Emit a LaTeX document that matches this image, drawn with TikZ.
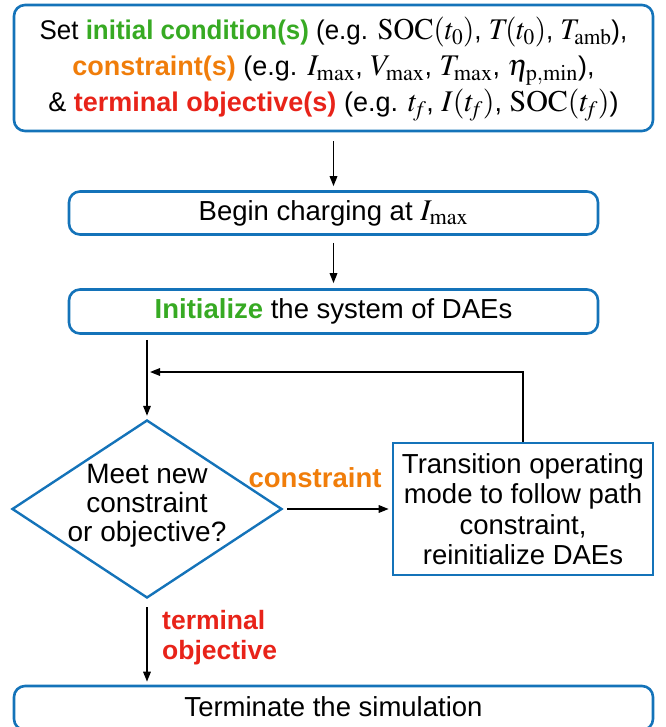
\documentclass[tikz,border=0pt]{standalone}
\usepackage{mathptmx}
\usepackage[no-math]{fontspec}
\setmainfont{Liberation Sans}
\usetikzlibrary{shapes.geometric,arrows.meta}
\definecolor{myblue}{RGB}{20,115,185}
\definecolor{mygreen}{RGB}{55,170,35}
\definecolor{myorange}{RGB}{240,125,10}
\definecolor{myred}{RGB}{232,35,25}
\newcommand{\mth}[1]{{\fontsize{30}{30}\selectfont$#1$}}
\begin{document}
\begin{tikzpicture}[x=1pt,y=-1pt,
  txt/.style={font=\fontsize{27.5}{35}\selectfont, align=center, inner sep=0pt},
  rbox/.style={draw=myblue, line width=2.6pt, rounded corners=11pt, inner sep=0pt},
  sbox/.style={draw=myblue, line width=2.6pt, inner sep=0pt},
  arr/.style={-{Triangle[length=10pt,width=7.5pt]}, line width=1.6pt},
  lbl/.style={font=\fontsize{27.5}{30}\selectfont\bfseries, inner sep=0pt}]
\useasboundingbox (0,0) rectangle (665,727);
% top box
\node[rbox, minimum width=639pt, minimum height=126pt] (top) at (333.5,68) {};
\node[txt, font=\fontsize{27}{36}\selectfont] (toptxt) at (333.5,69) {%
\scalebox{0.96}[1]{Set \textcolor{mygreen}{\textbf{initial condition(s)}} (e.g. \mth{\mathrm{SOC}(t_0)}, \mth{T\!(t_0)}, \mth{T_{\mathrm{amb}}}),}\\
\textcolor{myorange}{\textbf{constraint(s)}} (e.g. \mth{I_{\max}}, \mth{V_{\max}}, \mth{T_{\max}}, \mth{\eta_{\mathrm{p,min}}}),\\
\& \textcolor{myred}{\textbf{terminal objective(s)}} (e.g. \mth{t_{\!f}}, \mth{I(t_{\!f})}, \mth{\mathrm{SOC}(t_{\!f})})};
% begin charging
\node[rbox, minimum width=529pt, minimum height=43pt] (begin) at (333.5,213) {};
\node[txt] (begintxt) at (begin.center) {Begin charging at \mth{I_{\max}}};
% initialize
\node[rbox, minimum width=529pt, minimum height=44pt] (init) at (333.5,311.5) {};
\node[txt] (inittxt) at (init.center) {\textcolor{mygreen}{\textbf{Initialize}} the system of DAEs};
% diamond
\node[diamond, draw=myblue, line width=2.4pt, minimum width=270pt, minimum height=178pt, inner sep=0pt] (dia) at (147,509) {};
\node[txt, font=\fontsize{28}{29}\selectfont] (diatxt) at (147,506) {Meet new\\constraint\\or objective?};
% right box
\node[sbox, minimum width=260pt, minimum height=132pt] (rb) at (523,509) {};
\node[txt, font=\fontsize{27.5}{30.5}\selectfont] (rbtxt) at (rb.center) {Transition operating\\mode to follow path\\constraint,\\reinitialize DAEs};
% bottom box
\node[rbox, minimum width=639pt, minimum height=44pt] (fin) at (333.5,708) {};
\node[txt] (fintxt) at (333.5,707) {Terminate the simulation};
% arrows
\draw[arr, shorten <=9pt, shorten >=4pt] (top.south) -- (begin.north);
\draw[arr, shorten <=7pt, shorten >=5pt] (begin.south) -- (init.north);
\draw[arr, shorten <=5pt, shorten >=3pt] (init.south -| dia.north) -- (dia.north);
\coordinate (fb) at (150,372);
\draw[arr] (rb.north) |- (fb);
\draw[arr, shorten <=4pt, shorten >=3pt] (dia.east) -- (rb.west);
\draw[arr, shorten <=8pt, shorten >=3pt] (dia.south) -- (fin.north -| dia.south);
% labels
\node[lbl, text=myorange] (lc) at (315,478) {constraint};
\node[lbl, text=myred, align=left, anchor=west, font=\fontsize{26.5}{30}\selectfont\bfseries] (lt) at (162,638) {terminal\\objective};
\end{tikzpicture}
\end{document}
